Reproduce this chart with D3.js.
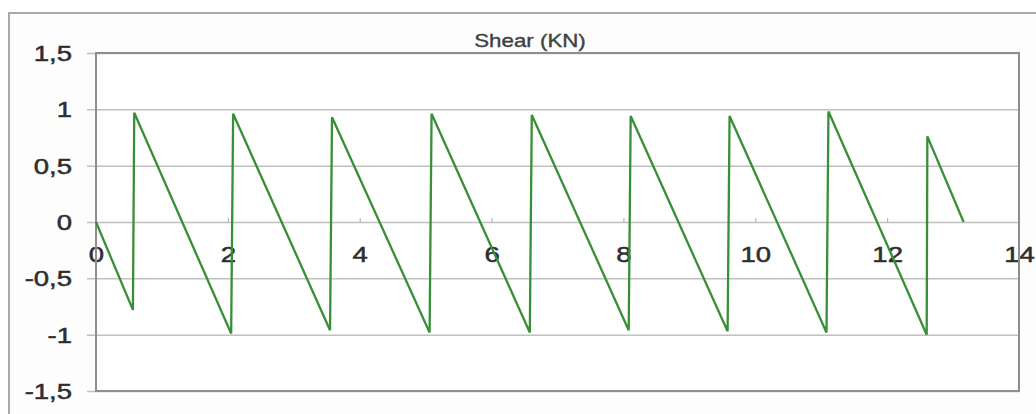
<!DOCTYPE html>
<html>
<head>
<meta charset="utf-8">
<script src="https://cdn.jsdelivr.net/npm/d3@7"></script>
<style>
  html, body { margin: 0; padding: 0; background: #ffffff; }
  svg { display: block; font-family: "Liberation Sans", Arial, sans-serif; }
</style>
</head>
<body>
<svg id="chart" width="1036" height="414"></svg>
<script>
// Shear force diagram along the beam (position in m, shear in kN)
const shearX = [0, 0.56, 0.58, 2.05, 2.08, 3.55, 3.58, 5.06, 5.09, 6.58, 6.61,
                8.08, 8.11, 9.58, 9.61, 11.08, 11.11, 12.60, 12.61, 13.16];
const shearV = [0, -0.78, 0.97, -0.99, 0.96, -0.96, 0.93, -0.98, 0.96, -0.98, 0.95,
                -0.96, 0.94, -0.97, 0.94, -0.98, 0.98, -1.0, 0.76, 0];

const xTicks = [0, 2, 4, 6, 8, 10, 12, 14];
const yTicks = [-1.5, -1, -0.5, 0, 0.5, 1, 1.5];
const yTickLabels = ["-1,5", "-1", "-0,5", "0", "0,5", "1", "1,5"];
const chartTitle = "Shear (KN)";

const svg = d3.select("#chart");
const plot = { left: 96, top: 53, right: 1019, bottom: 391 };
const stretch = 1.25; // horizontal widening of all text

const x = d3.scaleLinear().domain([0, 14]).range([plot.left, plot.right]);
const y = d3.scaleLinear().domain([-1.5, 1.5]).range([plot.bottom, plot.top]);

// outer chart frame
svg.append("rect")
  .attr("x", 9).attr("y", 13)
  .attr("width", 1040).attr("height", 420)
  .attr("fill", "#fdfdfd")
  .attr("stroke", "#a9a9a9").attr("stroke-width", 2);

// plot area background
svg.append("rect")
  .attr("x", plot.left).attr("y", plot.top)
  .attr("width", plot.right - plot.left).attr("height", plot.bottom - plot.top)
  .attr("fill", "#ffffff");

// horizontal gridlines with short outward ticks on the left
const grid = svg.append("g")
  .attr("transform", `translate(${plot.left - 9},0)`)
  .call(d3.axisLeft(y).tickValues(yTicks)
    .tickSize(-(plot.right - plot.left + 9)).tickFormat(""));
grid.select(".domain").remove();
grid.selectAll(".tick line")
  .attr("stroke", "#c0c0c0").attr("stroke-width", 1.5);

// y labels
const yAxis = svg.append("g")
  .attr("transform", `translate(${plot.left},0)`)
  .call(d3.axisLeft(y).tickValues(yTicks).tickSize(0)
    .tickFormat((d, i) => yTickLabels[i]));
yAxis.select(".domain").remove();
yAxis.selectAll("text")
  .attr("x", -24 / stretch)
  .attr("dy", "0.34em")
  .attr("transform", `scale(${stretch},1)`)
  .attr("fill", "#2e2e2e")
  .attr("stroke", "#2e2e2e").attr("stroke-width", 0.5)
  .style("font-size", "22px")
  .style("font-family", "'Liberation Sans', Arial, sans-serif");

// x axis along zero line: small upward ticks, labels below
const xAxis = svg.append("g")
  .attr("transform", `translate(0,${y(0)})`)
  .call(d3.axisBottom(x).tickValues(xTicks).tickSizeInner(-4).tickSizeOuter(0)
    .tickFormat(d3.format("d")));
xAxis.select(".domain").remove();
xAxis.selectAll(".tick line").attr("stroke", "#b5b5b5").attr("stroke-width", 1.2);
xAxis.selectAll("text")
  .attr("x", 0)
  .attr("y", 24)
  .attr("dy", "0.71em")
  .attr("transform", `scale(${stretch},1)`)
  .attr("fill", "#2e2e2e")
  .attr("stroke", "#2e2e2e").attr("stroke-width", 0.5)
  .style("font-size", "22px")
  .style("font-family", "'Liberation Sans', Arial, sans-serif");

// plot border
svg.append("rect")
  .attr("x", plot.left).attr("y", plot.top)
  .attr("width", plot.right - plot.left).attr("height", plot.bottom - plot.top)
  .attr("fill", "none")
  .attr("stroke", "#8e8e8e").attr("stroke-width", 2);

// shear line
const pts = shearX.map((d, i) => [d, shearV[i]]);
svg.append("path")
  .datum(pts)
  .attr("fill", "none")
  .attr("stroke", "#378f37")
  .attr("stroke-width", 2.3)
  .attr("stroke-linejoin", "miter")
  .attr("d", d3.line().x(d => x(d[0])).y(d => y(d[1])));

// title
svg.append("text")
  .attr("transform", `translate(530,47) scale(1.24,1)`)
  .attr("text-anchor", "middle")
  .attr("fill", "#404040")
  .attr("stroke", "#404040").attr("stroke-width", 0.35)
  .style("font-size", "18px")
  .text(chartTitle);
</script>
</body>
</html>
